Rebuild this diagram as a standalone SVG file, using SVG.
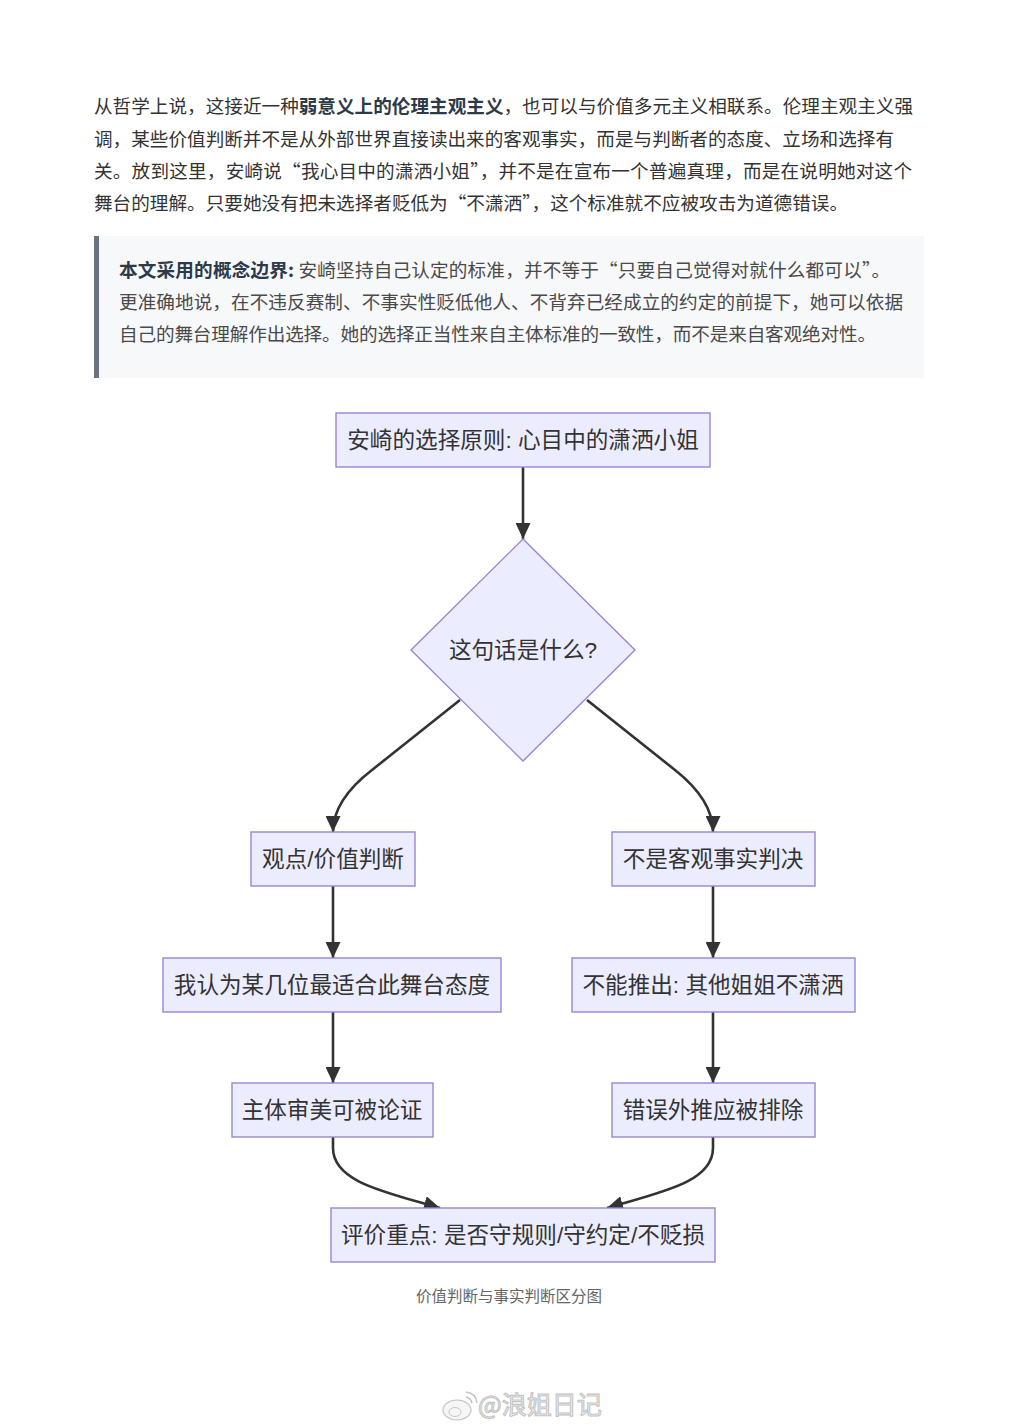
<svg xmlns="http://www.w3.org/2000/svg" width="1018" height="1428" viewBox="0 0 1018 1428">
<defs>
<style>
.p{font-family:"Noto Sans CJK SC","Noto Sans",sans-serif;font-size:18.6px;fill:#333}
.q{font-family:"Noto Sans CJK SC","Noto Sans",sans-serif;font-size:18.6px;fill:#4a4a4a}
.b{font-weight:bold;fill:#2d3a4a}
.node rect,.node polygon{fill:#ECECFF;stroke:#9a86d0;stroke-width:1.4}
.node text{font-family:"Liberation Sans","Noto Sans CJK SC",sans-serif;font-size:22.6px;fill:#333;text-anchor:middle}
.edge{fill:none;stroke:#333;stroke-width:2.6}
.cap{font-family:"Noto Sans CJK SC",sans-serif;font-size:15.5px;fill:#666;text-anchor:middle}
.wm{font-family:"Noto Sans CJK SC",sans-serif;font-size:25px;fill:#f6f6f6;stroke:#c4c4c4;stroke-width:1.1}
</style>
<marker id="ah" viewBox="0 0 16 15" refX="16" refY="7.5" markerWidth="16" markerHeight="15" markerUnits="userSpaceOnUse" orient="auto">
<path d="M0,0 L16,7.5 L0,15 Z" fill="#333"/>
</marker>
</defs>
<rect width="1018" height="1428" fill="#ffffff"/>

<g id="paragraph">
<text class="p" x="94" y="112.5" textLength="819" lengthAdjust="spacing">从哲学上说，这接近一种<tspan class="b">弱意义上的伦理主观主义</tspan>，也可以与价值多元主义相联系。伦理主观主义强</text>
<text class="p" x="94" y="145.5" textLength="800" lengthAdjust="spacing">调，某些价值判断并不是从外部世界直接读出来的客观事实，而是与判断者的态度、立场和选择有</text>
<text class="p" x="94" y="177.5" textLength="818" lengthAdjust="spacing">关。放到这里，安崎说“我心目中的潇洒小姐”，并不是在宣布一个普遍真理，而是在说明她对这个</text>
<text class="p" x="94" y="209.5" textLength="754" lengthAdjust="spacing">舞台的理解。只要她没有把未选择者贬低为“不潇洒”，这个标准就不应被攻击为道德错误。</text>
</g>

<g id="blockquote">
<rect x="94" y="236" width="830" height="142" fill="#f7f8fa"/>
<rect x="94" y="236" width="5" height="142" fill="#6b7280"/>
<text class="q" x="119" y="276.5" textLength="771" lengthAdjust="spacing"><tspan class="b">本文采用的概念边界:</tspan> 安崎坚持自己认定的标准，并不等于“只要自己觉得对就什么都可以”。</text>
<text class="q" x="119" y="308.5" textLength="784" lengthAdjust="spacing">更准确地说，在不违反赛制、不事实性贬低他人、不背弃已经成立的约定的前提下，她可以依据</text>
<text class="q" x="119" y="340.5" textLength="757" lengthAdjust="spacing">自己的舞台理解作出选择。她的选择正当性来自主体标准的一致性，而不是来自客观绝对性。</text>
</g>

<g id="connectors">
<path class="edge" d="M523,467 L523,539" marker-end="url(#ah)"/>
<path class="edge" d="M460,700 L372,770 Q333,800 333,832" marker-end="url(#ah)"/>
<path class="edge" d="M587,700 L675,770 Q713,800 713,832" marker-end="url(#ah)"/>
<path class="edge" d="M333,886 L333,958" marker-end="url(#ah)"/>
<path class="edge" d="M713,886 L713,958" marker-end="url(#ah)"/>
<path class="edge" d="M333,1012 L333,1083" marker-end="url(#ah)"/>
<path class="edge" d="M713,1012 L713,1083" marker-end="url(#ah)"/>
<path class="edge" d="M333,1137 L333,1148 C333,1182 385,1192 440,1208" marker-end="url(#ah)"/>
<path class="edge" d="M713,1137 L713,1148 C713,1182 662,1192 607,1208" marker-end="url(#ah)"/>
</g>

<g id="n_start" class="node">
<rect x="336" y="413" width="374" height="54"/>
<text x="523" y="448">安崎的选择原则: 心目中的潇洒小姐</text>
</g>
<g id="n_question" class="node">
<polygon points="523,539 635,650 523,761 411,650"/>
<text x="523" y="658">这句话是什么?</text>
</g>
<g id="n_opinion" class="node">
<rect x="251" y="832" width="164" height="54"/>
<text x="333" y="867">观点/价值判断</text>
</g>
<g id="n_notfact" class="node">
<rect x="612" y="832" width="203" height="54"/>
<text x="713" y="867">不是客观事实判决</text>
</g>
<g id="n_think" class="node">
<rect x="163" y="958" width="338" height="54"/>
<text x="332" y="993">我认为某几位最适合此舞台态度</text>
</g>
<g id="n_cannot" class="node">
<rect x="572" y="958" width="283" height="54"/>
<text x="713" y="993">不能推出: 其他姐姐不潇洒</text>
</g>
<g id="n_aesthetic" class="node">
<rect x="232" y="1083" width="201" height="54"/>
<text x="332" y="1118">主体审美可被论证</text>
</g>
<g id="n_exclude" class="node">
<rect x="612" y="1083" width="203" height="54"/>
<text x="713" y="1118">错误外推应被排除</text>
</g>
<g id="n_focus" class="node">
<rect x="331" y="1208" width="384" height="54"/>
<text x="523" y="1243">评价重点: 是否守规则/守约定/不贬损</text>
</g>

<text class="cap" x="509" y="1302">价值判断与事实判断区分图</text>

<g id="watermark">
<ellipse cx="457" cy="1410" rx="14" ry="10" fill="#f6f6f6" stroke="#c4c4c4" stroke-width="1.2"/>
<ellipse cx="455" cy="1412" rx="6" ry="4.5" fill="none" stroke="#c4c4c4" stroke-width="1"/>
<path d="M466,1392 Q476,1393 477,1403" fill="none" stroke="#c4c4c4" stroke-width="1.5"/>
<path d="M466,1397 Q471,1398 472,1403" fill="none" stroke="#c4c4c4" stroke-width="1.5"/>
<text class="wm" x="478" y="1414">@浪姐日记</text>
</g>
</svg>
